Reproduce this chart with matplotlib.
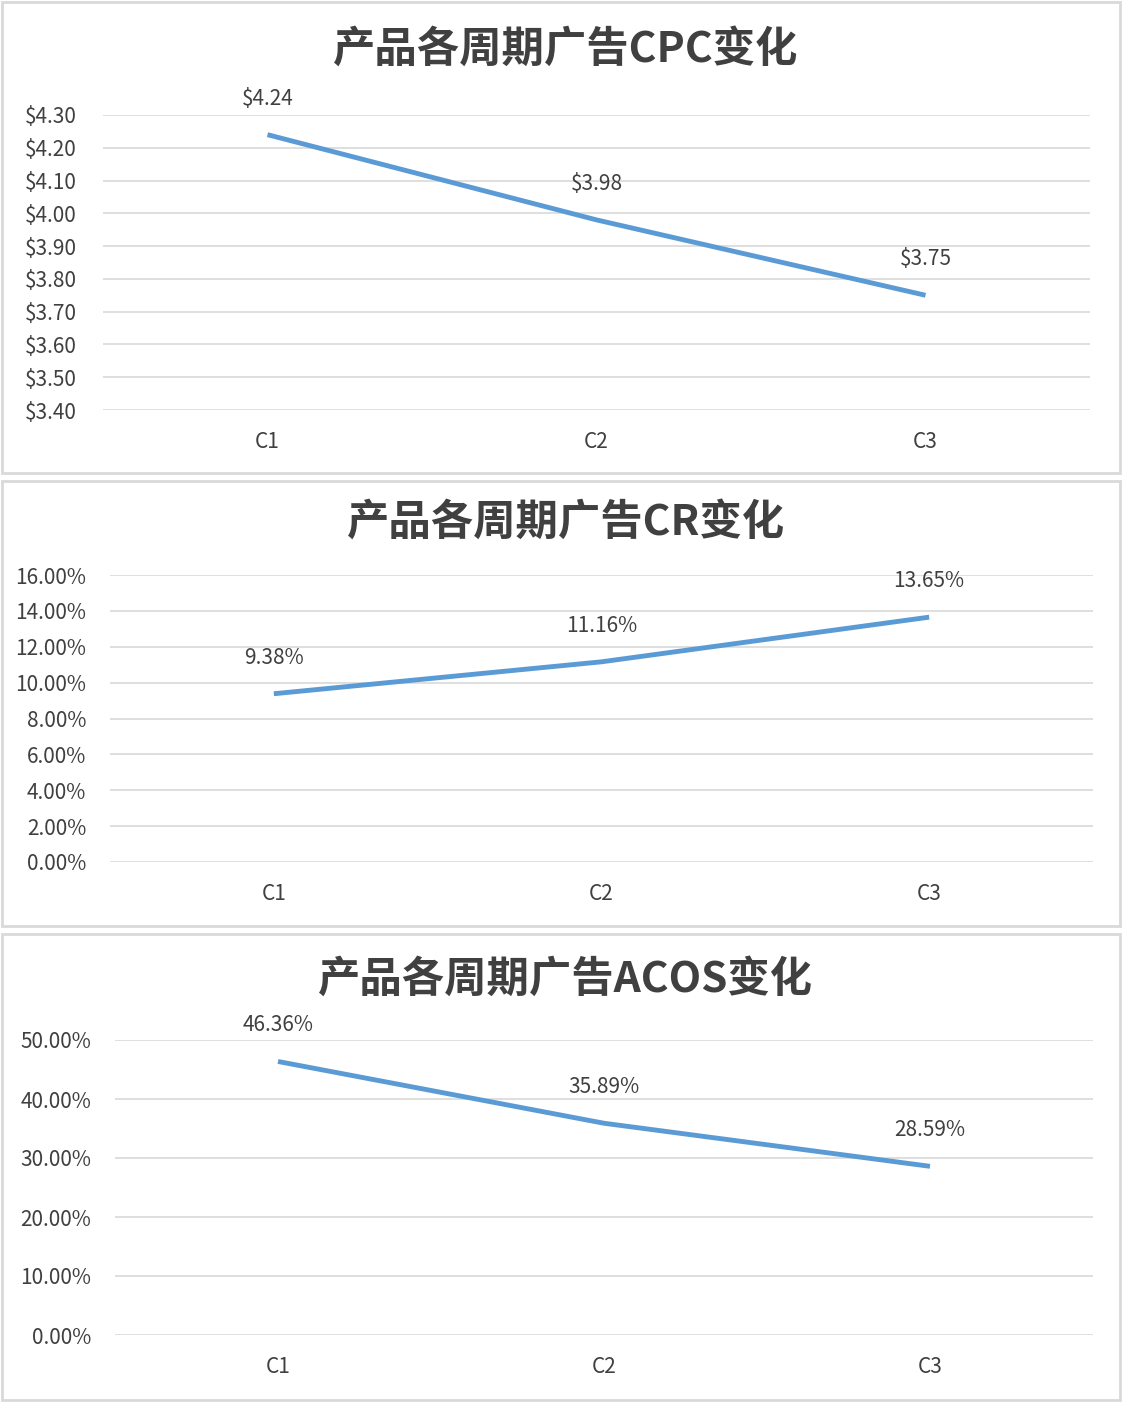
import matplotlib
matplotlib.use("Agg")
import matplotlib.pyplot as plt
from matplotlib.patches import Rectangle
from matplotlib.ticker import FuncFormatter

plt.rcParams['font.family'] = ['Noto Sans CJK SC', 'DejaVu Sans']

categories = ["C1", "C2", "C3"]
cpc = [4.24, 3.98, 3.75]
cr = [9.38, 11.16, 13.65]
acos = [46.36, 35.89, 28.59]

titles = ["产品各周期广告CPC变化", "产品各周期广告CR变化", "产品各周期广告ACOS变化"]
cpc_ticks = [3.40, 3.50, 3.60, 3.70, 3.80, 3.90, 4.00, 4.10, 4.20, 4.30]
cr_ticks = [0, 2, 4, 6, 8, 10, 12, 14, 16]
acos_ticks = [0, 10, 20, 30, 40, 50]

W, H = 1122, 1402
fig = plt.figure(figsize=(W / 100, H / 100), dpi=100)
fig.patch.set_facecolor("white")

LINE = "#5B9BD5"
GRID = "#D9D9D9"
TXT = "#404040"

# panel boxes: (top, bottom) in px
panels = [(2, 473), (481, 926), (934, 1400)]
for top, bot in panels:
    fig.add_artist(Rectangle((2 / W, 1 - bot / H), (1118) / W, (bot - top) / H,
                             transform=fig.transFigure, fill=False,
                             edgecolor=GRID, linewidth=2))

# axes boxes: left, right, top, bottom (px)
boxes = [(103, 1090, 115, 410), (110, 1093, 575, 862), (115, 1093, 1040, 1335)]
title_y = [50, 523, 980]
ypads = [19, 17, 17]

series = [
    (cpc, cpc_ticks, lambda v: f"${v:.2f}", lambda v, p: f"${v:.2f}"),
    (cr, cr_ticks, lambda v: f"{v:.2f}%", lambda v, p: f"{v:.2f}%"),
    (acos, acos_ticks, lambda v: f"{v:.2f}%", lambda v, p: f"{v:.2f}%"),
]

for i, ((vals, ticks, lab, fmt), (l, r, t, b)) in enumerate(zip(series, boxes)):
    ax = fig.add_axes([l / W, 1 - b / H, (r - l) / W, (b - t) / H])
    x = list(range(len(categories)))
    ax.plot(x, vals, color=LINE, linewidth=3.5, solid_capstyle='butt', zorder=3)
    ax.set_xlim(-0.5, len(categories) - 0.5)
    ax.set_ylim(ticks[0], ticks[-1])
    ax.set_yticks(ticks)
    ax.yaxis.set_major_formatter(FuncFormatter(fmt))
    ax.set_xticks(x)
    ax.set_xticklabels(categories)
    ax.grid(axis='y', color=GRID, linewidth=1.2)
    ax.set_axisbelow(True)
    for s in ax.spines.values():
        s.set_visible(False)
    ax.tick_params(axis='both', length=0, labelsize=15, colors=TXT)
    ax.tick_params(axis='y', pad=ypads[i])
    ax.tick_params(axis='x', pad=15)
    for xi, v in zip(x, vals):
        ax.annotate(lab(v), (xi, v), xytext=(0, 26), textcoords='offset points',
                    ha='center', va='center', fontsize=15, color=TXT)
    fig.text(566 / W, 1 - title_y[i] / H, titles[i],
             ha='center', va='center', fontsize=30.5, fontweight='bold', color="#404040")

fig.savefig("out.png", dpi=100, facecolor="white")
